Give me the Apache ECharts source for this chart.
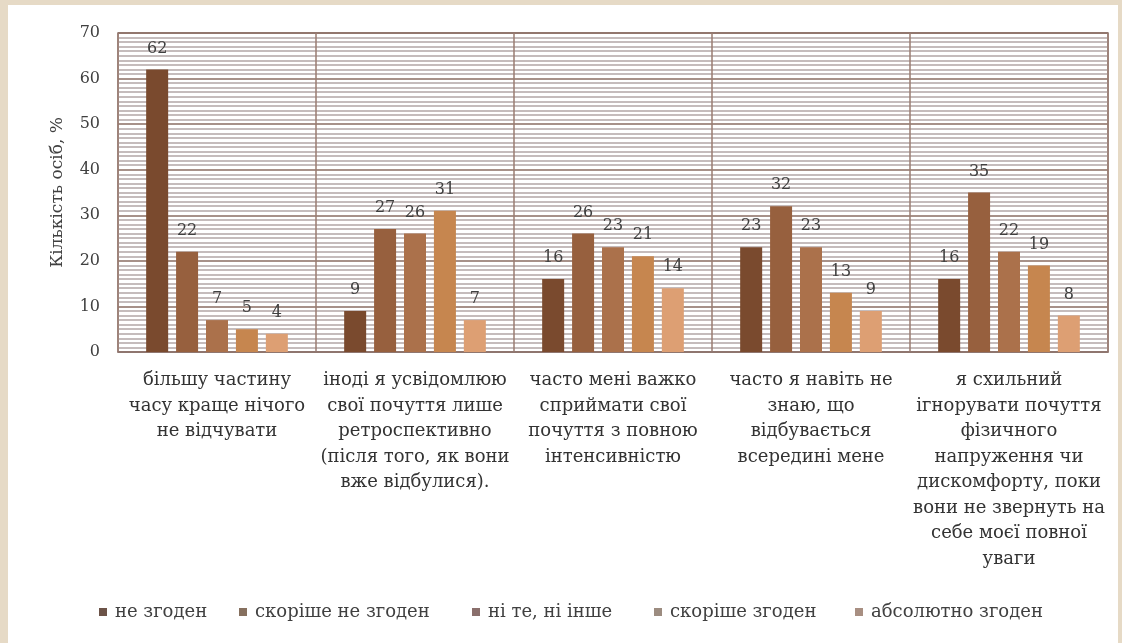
<!DOCTYPE html>
<html>
<head>
<meta charset="utf-8">
<script src="https://cdn.jsdelivr.net/npm/echarts@6/dist/echarts.min.js"></script>
<style>
html,body{margin:0;padding:0;background:#e6dac6;}
#c{width:1122px;height:643px;}
</style>
</head>
<body>
<div id="c"></div>
<script>
const categories = [
  "більшу частину\nчасу краще нічого\nне відчувати",
  "іноді я усвідомлюю\nсвої почуття лише\nретроспективно\n(після того, як вони\nвже відбулися).",
  "часто мені важко\nсприймати свої\nпочуття з повною\nінтенсивністю",
  "часто я навіть не\nзнаю, що\nвідбувається\nвсередині мене",
  "я схильний\nігнорувати почуття\nфізичного\nнапруження чи\nдискомфорту, поки\nвони не звернуть на\nсебе моєї повної\nуваги"
];
const seriesNames = ["не згоден", "скоріше не згоден", "ні те, ні інше", "скоріше згоден", "абсолютно згоден"];
const neZgoden = [62, 9, 16, 23, 16];
const skorisheNeZgoden = [22, 27, 26, 32, 35];
const niTeNiInshe = [7, 26, 23, 23, 22];
const skorisheZgoden = [5, 31, 21, 13, 19];
const absolyutnoZgoden = [4, 7, 14, 9, 8];
const yTicks = [0, 10, 20, 30, 40, 50, 60, 70];

const values = [neZgoden, skorisheNeZgoden, niTeNiInshe, skorisheZgoden, absolyutnoZgoden];
const colors = ["#7a4a2e", "#97603e", "#ab714b", "#c6864f", "#dd9f73"];
const legendColors = ["#6c5348", "#86705f", "#8a6f6c", "#9c8c80", "#a88f82"];
const legendLeft = [99, 239, 472, 654, 855];
const serif = "'DejaVu Serif', 'Liberation Serif', serif";

const chart = echarts.init(document.getElementById('c'), null, {renderer: 'canvas'});
chart.setOption({
  backgroundColor: '#e6dac6',
  animation: false,
  graphic: [{
    type: 'rect', left: 8, top: 5, z: -10,
    shape: {width: 1110, height: 640},
    style: {fill: '#ffffff'}
  }],
  grid: {left: 118, right: 14, top: 33, bottom: 291, show: true, borderColor: '#8f7770', borderWidth: 1.5, backgroundColor: 'transparent'},
  legend: seriesNames.map((n, i) => ({
    top: 598, left: legendLeft[i] - 5, padding: 5,
    itemWidth: 8, itemHeight: 8,
    icon: 'rect',
    textStyle: {fontFamily: serif, fontSize: 18, color: '#404040', padding: [0, 0, 0, 3]},
    data: [{name: n, itemStyle: {color: legendColors[i]}}]
  })),
  xAxis: {
    type: 'category',
    data: categories,
    axisTick: {show: false},
    axisLine: {show: true, lineStyle: {color: '#8f7770', width: 1.5}},
    splitLine: {show: true, lineStyle: {color: '#9a7d72', width: 1.5}},
    axisLabel: {interval: 0, fontFamily: serif, fontSize: 18, color: '#333333', lineHeight: 25.5, margin: 16}
  },
  yAxis: {
    type: 'value', min: 0, max: 70, interval: 10,
    name: 'Кількість осіб, %',
    nameLocation: 'middle', nameGap: 52, nameRotate: 90,
    nameTextStyle: {fontFamily: serif, fontSize: 17, color: '#404040'},
    axisLine: {show: false}, axisTick: {show: false},
    axisLabel: {fontFamily: serif, fontSize: 16, color: '#404040', margin: 18},
    splitLine: {show: true, lineStyle: {color: '#8a6c62', width: 1.5}},
    minorTick: {show: false, splitNumber: 10},
    minorSplitLine: {show: true, lineStyle: {color: '#b3a6a6', width: 1.5}}
  },
  series: values.map((v, i) => ({
    name: seriesNames[i],
    type: 'bar',
    data: v,
    barWidth: 22,
    barGap: '36%',
    itemStyle: {color: colors[i]},
    label: {show: true, position: 'top', distance: 13, fontFamily: serif, fontSize: 16, color: '#404040'}
  }))
});
</script>
</body>
</html>
